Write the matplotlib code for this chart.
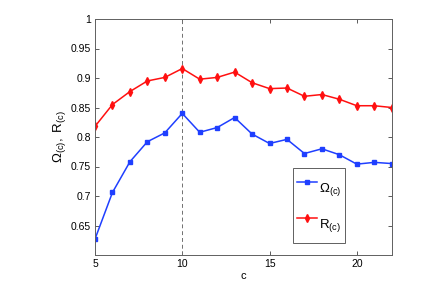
import matplotlib
matplotlib.use('Agg')
import matplotlib.pyplot as plt

plt.rcParams['font.family'] = ['Liberation Sans', 'DejaVu Sans']
plt.rcParams['mathtext.fontset'] = 'custom'
plt.rcParams['mathtext.rm'] = 'Liberation Sans'
plt.rcParams['mathtext.it'] = 'Liberation Sans:italic'

c = [5, 6, 7, 8, 9, 10, 11, 12, 13, 14, 15, 16, 17, 18, 19, 20, 21, 22]
omega = [0.627, 0.706, 0.758, 0.792, 0.807, 0.840, 0.808, 0.816, 0.833, 0.805,
         0.789, 0.796, 0.772, 0.780, 0.770, 0.754, 0.757, 0.755]
r_vals = [0.818, 0.855, 0.877, 0.895, 0.901, 0.916, 0.898, 0.901, 0.910, 0.892,
          0.882, 0.883, 0.869, 0.872, 0.864, 0.853, 0.853, 0.850]

fig = plt.figure(figsize=(4.36, 2.97), dpi=100)
ax = fig.add_axes([95 / 436, 1 - 255 / 297, (391.7 - 95) / 436, (255 - 19) / 297])

ax.axvline(10, color='#707070', linestyle='--', linewidth=0.7, dashes=(4, 3))
ax.plot(c, omega, color='#1f3fff', marker='s', markersize=3.2, linewidth=1.1,
        label=r'$\Omega_{\mathrm{(c)}}$')
ax.plot(c, r_vals, color='#ff1010', marker='d', markersize=3.8, linewidth=1.1,
        label=r'$\mathrm{R_{(c)}}$')

ax.set_xlim(5, 22)
ax.set_ylim(0.6, 1.0)
ax.set_xticks([5, 10, 15, 20])
ax.set_yticks([0.65, 0.7, 0.75, 0.8, 0.85, 0.9, 0.95, 1.0])
ax.set_yticklabels(['0.65', '0.7', '0.75', '0.8', '0.85', '0.9', '0.95', '1'])
ax.tick_params(direction='in', top=True, right=True, labelsize=7.5,
               length=3, width=0.6, color='#404040', pad=3)
for s in ax.spines.values():
    s.set_color('#606060')
    s.set_linewidth(0.7)

ax.set_xlabel('c', fontsize=8, labelpad=1)
ax.set_ylabel(r'$\Omega_{\mathrm{(c)}}\mathrm{,\ R_{(c)}}$', fontsize=9.5, labelpad=2)

leg = ax.legend(loc='upper left', bbox_to_anchor=(0.668, 0.367), fontsize=9.5,
                fancybox=False, framealpha=1, edgecolor='#606060',
                labelspacing=0.4, handlelength=1.5, handleheight=3.2,
                borderpad=0.3, handletextpad=0.15, borderaxespad=0)
leg.get_frame().set_linewidth(0.7)

fig.savefig('out.png', dpi=100, facecolor='white')
